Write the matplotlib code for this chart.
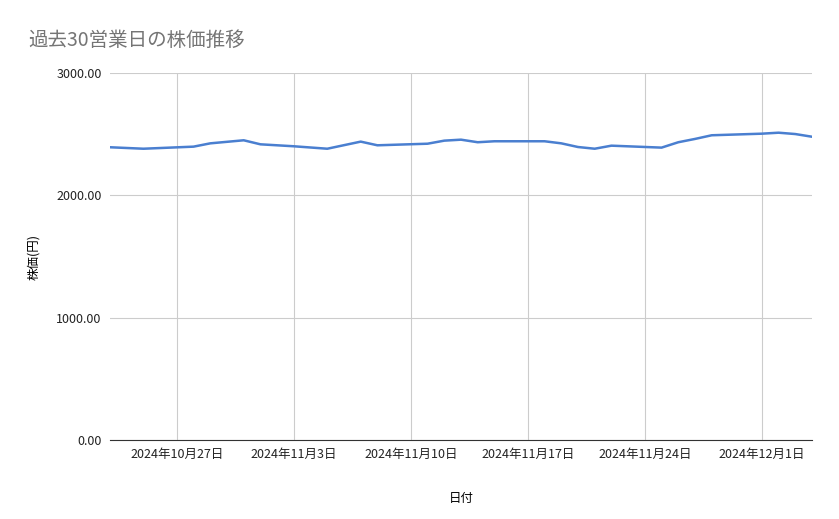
import matplotlib
matplotlib.use('Agg')
import matplotlib.pyplot as plt
import matplotlib.dates as mdates
import numpy as np

plt.rcParams['font.family'] = ['Noto Sans CJK JP', 'DejaVu Sans']

dates = ['2024-10-23', '2024-10-25', '2024-10-28', '2024-10-29', '2024-10-31', '2024-11-01',
         '2024-11-03', '2024-11-05', '2024-11-07', '2024-11-08', '2024-11-11', '2024-11-12',
         '2024-11-13', '2024-11-14', '2024-11-15', '2024-11-18', '2024-11-19', '2024-11-20',
         '2024-11-21', '2024-11-22', '2024-11-25', '2024-11-26', '2024-11-27', '2024-11-28',
         '2024-12-01', '2024-12-02', '2024-12-03', '2024-12-04']
prices = [2393, 2381, 2398, 2425, 2450, 2417, 2401, 2381, 2439, 2409, 2422, 2447,
          2455, 2434, 2442, 2442, 2425, 2395, 2381, 2406, 2390, 2434, 2461, 2491,
          2504, 2512, 2501, 2479]
tick_dates = ['2024-10-27', '2024-11-03', '2024-11-10', '2024-11-17', '2024-11-24', '2024-12-01']

x = np.array(dates, dtype='datetime64[D]')
ticks = np.array(tick_dates, dtype='datetime64[D]')

fig = plt.figure(figsize=(8.39, 5.19), dpi=100)
ax = fig.add_axes([110/839, 1 - 440/519, 702/839, 367/519])
ax.plot(x, prices, color='#4a7fd0', linewidth=1.8)

ax.set_xlim(x[0], x[-1])
ax.set_ylim(0, 3000)
ax.set_yticks([0, 1000, 2000, 3000])
ax.set_yticklabels([f'{v:.2f}' for v in [0, 1000, 2000, 3000]])
ax.set_xticks(ticks)
ax.set_xticklabels([f'{d.year}年{d.month}月{d.day}日' for d in ticks.astype(object)])
ax.grid(True, color='#cccccc', linewidth=0.8)
for s in ['top', 'right', 'left']:
    ax.spines[s].set_visible(False)
ax.spines['bottom'].set_color('#333333')
ax.tick_params(length=0, labelsize=9, colors='#222222', pad=6)

ax.set_xlabel('日付', fontsize=9, labelpad=22)
ax.set_ylabel('株価(円)', fontsize=9, labelpad=12)
fig.text(28/839, 1 - 40/519, '過去30営業日の株価推移', fontsize=14, color='#757575', va='center')

fig.savefig('out.png', dpi=100)
